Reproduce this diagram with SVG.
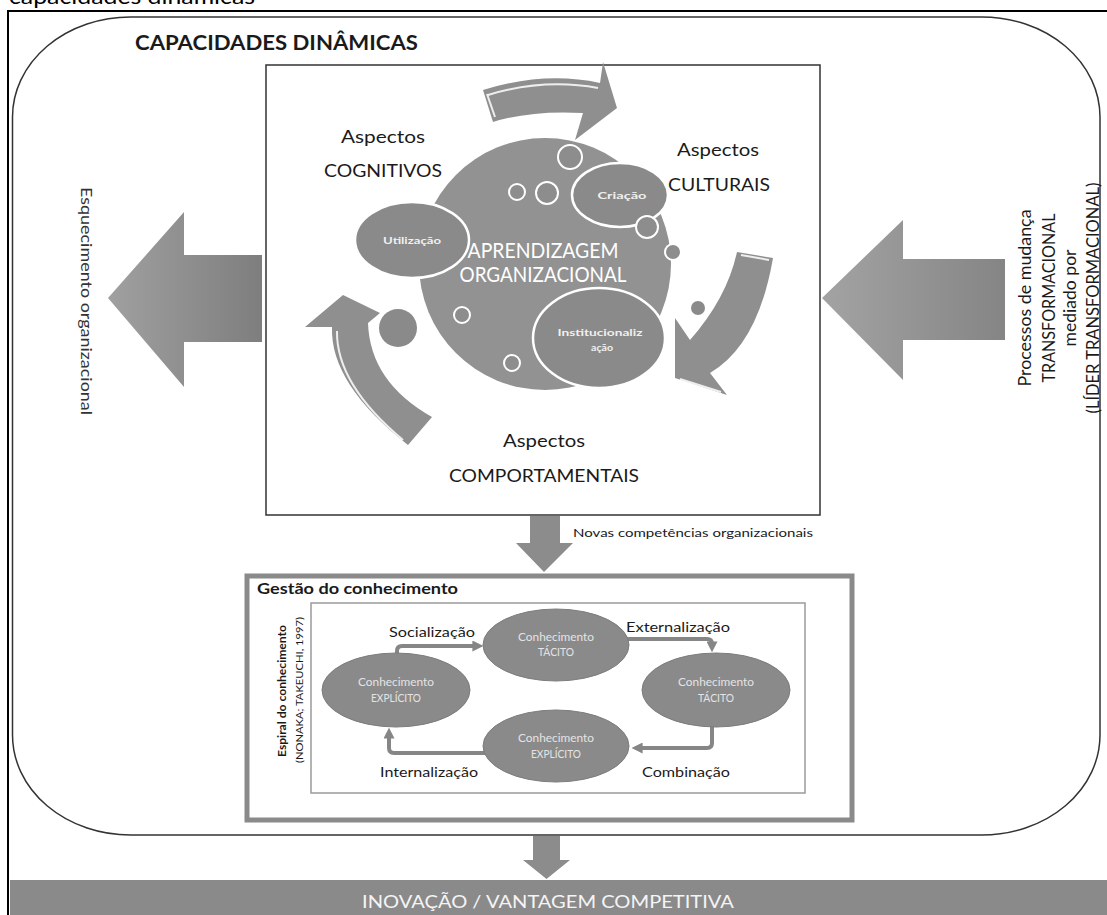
<svg xmlns="http://www.w3.org/2000/svg" width="1107" height="915" viewBox="0 0 1107 915">
<defs>
<style>
text { font-family: Lato, "Liberation Sans", Arial, sans-serif; }
.lbl { font-size:18px; fill:#1a1a1a; }
.wt { fill:#ffffff; }
.sub { fill:#8a8a8a; stroke:#ffffff; stroke-width:2.5; }
.dot { fill:#8d8d8d; stroke:#ffffff; stroke-width:2; }
.ek { fill:#8a8a8a; stroke:#7c7c7c; stroke-width:1; }
.ekt { fill:#e4e4e4; font-size:10.5px; }
.conn { fill:none; stroke:#868686; stroke-width:4; }
.lab { font-size:14px; fill:#1a1a1a; }
.hl { fill:none; stroke:#ffffff; stroke-width:2; stroke-opacity:0.85; }
.carrow { fill:#8f8f8f; }
.barrow { fill:#8c8c8c; }
</style>
<linearGradient id="gL" x1="0" y1="0" x2="1" y2="0">
<stop offset="0" stop-color="#a0a0a0"/>
<stop offset="1" stop-color="#7e7e7e"/>
</linearGradient>
<linearGradient id="gR" x1="0" y1="0" x2="1" y2="0">
<stop offset="0" stop-color="#a3a3a3"/>
<stop offset="1" stop-color="#858585"/>
</linearGradient>
<marker id="ah" viewBox="0 0 10 10" refX="6" refY="5" markerWidth="11" markerHeight="11" markerUnits="userSpaceOnUse" orient="auto">
<path d="M0,0 L10,5 L0,10 z" fill="#868686"/>
</marker>
</defs>

<rect x="0" y="0" width="1107" height="915" fill="#ffffff"/>

<g id="caption">
<text x="9" y="4" font-size="22" fill="#000" textLength="246" lengthAdjust="spacingAndGlyphs">capacidades dinâmicas</text>
</g>

<g id="frame">
<rect x="8" y="11" width="1110" height="920" fill="none" stroke="#000" stroke-width="2"/>
<rect x="12.5" y="17" width="1087.5" height="818" rx="118" ry="100" fill="none" stroke="#333" stroke-width="1.5"/>
<text x="135" y="50" font-size="20" font-weight="bold" fill="#1a1a1a" textLength="283" lengthAdjust="spacingAndGlyphs">CAPACIDADES DINÂMICAS</text>
</g>

<g id="esquecimento">
<polygon points="108,298 184,212 184,255 262,255 262,342 184,342 184,387" fill="url(#gL)"/>
<text transform="translate(81,301) rotate(90)" text-anchor="middle" font-size="15" fill="#333" textLength="228" lengthAdjust="spacingAndGlyphs">Esquecimento organizacional</text>
</g>

<g id="mudanca">
<polygon points="822,298 903,220 903,259 1005,259 1005,340 903,340 903,380" fill="url(#gR)"/>
<text transform="translate(1031,298) rotate(-90)" text-anchor="middle" font-size="17" fill="#1a1a1a" textLength="177" lengthAdjust="spacingAndGlyphs">Processos de mudança</text>
<text transform="translate(1055,298) rotate(-90)" text-anchor="middle" font-size="17" fill="#1a1a1a" textLength="169" lengthAdjust="spacingAndGlyphs">TRANSFORMACIONAL</text>
<text transform="translate(1076,298) rotate(-90)" text-anchor="middle" font-size="17" fill="#1a1a1a" textLength="97" lengthAdjust="spacingAndGlyphs">mediado por</text>
<text transform="translate(1099,298) rotate(-90)" text-anchor="middle" font-size="17" fill="#1a1a1a" textLength="231" lengthAdjust="spacingAndGlyphs">(LÍDER TRANSFORMACIONAL)</text>
</g>

<g id="aprendizagem">
<rect x="266" y="65" width="554" height="450" fill="#ffffff" stroke="#333" stroke-width="1.5"/>
<circle cx="545" cy="264" r="126" fill="#929292"/>
<path class="carrow" d="M483,90 Q544,71 600,83 L603,62 L617,108 L575,140 L583,113 Q532,110 493,122 Z"/>
<path class="hl" d="M488,95 Q544,78 598,88"/>
<path class="hl" d="M487,94 L495,117"/>
<path class="carrow" d="M737,252 L773,258 Q758,345 710,373 L727,395 L675,378 L675,318 L690,340 Q727,298 737,252 Z"/>
<path class="hl" d="M741,255 L769,260"/>
<path class="hl" d="M680,379 L721,392"/>
<path class="carrow" d="M408,445 Q330,384 332,327 L305,327 L343,295 L380,313 L368,323 Q370,382 432,417 Z"/>
<path class="hl" d="M403,440 Q336,384 337,331"/>
<circle cx="398" cy="328" r="19" fill="#8a8a8a"/>
<circle cx="698" cy="308" r="7" fill="#8a8a8a"/>
<text x="543" y="258" text-anchor="middle" font-size="21" class="wt" textLength="151" lengthAdjust="spacingAndGlyphs">APRENDIZAGEM</text>
<text x="543" y="282" text-anchor="middle" font-size="21" class="wt" textLength="167" lengthAdjust="spacingAndGlyphs">ORGANIZACIONAL</text>
<ellipse class="sub" cx="412" cy="240" rx="57" ry="38"/>
<text x="412" y="244" text-anchor="middle" font-size="10" font-weight="bold" fill="#f0f0f0" textLength="58" lengthAdjust="spacingAndGlyphs">Utilização</text>
<ellipse class="sub" cx="620" cy="195" rx="48" ry="32"/>
<text x="622" y="199" text-anchor="middle" font-size="10" font-weight="bold" fill="#f0f0f0" textLength="49" lengthAdjust="spacingAndGlyphs">Criação</text>
<ellipse class="sub" cx="599" cy="338" rx="66" ry="50"/>
<text x="600" y="336" text-anchor="middle" font-size="10" font-weight="bold" fill="#f0f0f0" textLength="85" lengthAdjust="spacingAndGlyphs">Institucionaliz</text>
<text x="602" y="351" text-anchor="middle" font-size="10" font-weight="bold" fill="#f0f0f0" textLength="22" lengthAdjust="spacingAndGlyphs">ação</text>
<circle class="dot" cx="570" cy="157" r="12"/>
<circle class="dot" cx="517" cy="192" r="8"/>
<circle class="dot" cx="547" cy="193" r="11"/>
<circle class="dot" cx="647" cy="227" r="11"/>
<circle class="dot" cx="673" cy="252" r="8" fill="#858585"/>
<circle class="dot" cx="462" cy="315" r="8"/>
<circle class="dot" cx="512" cy="363" r="8"/>
<text x="383" y="143" text-anchor="middle" class="lbl" textLength="84" lengthAdjust="spacingAndGlyphs">Aspectos</text>
<text x="383" y="177" text-anchor="middle" class="lbl" textLength="118" lengthAdjust="spacingAndGlyphs">COGNITIVOS</text>
<text x="718" y="156" text-anchor="middle" class="lbl" textLength="82" lengthAdjust="spacingAndGlyphs">Aspectos</text>
<text x="719" y="191" text-anchor="middle" class="lbl" textLength="102" lengthAdjust="spacingAndGlyphs">CULTURAIS</text>
<text x="544" y="447" text-anchor="middle" class="lbl" textLength="82" lengthAdjust="spacingAndGlyphs">Aspectos</text>
<text x="544" y="482" text-anchor="middle" class="lbl" textLength="190" lengthAdjust="spacingAndGlyphs">COMPORTAMENTAIS</text>
</g>

<g id="gestao">
<rect x="247" y="576" width="605" height="244" fill="#ffffff" stroke="#8a8a8a" stroke-width="5"/>
<text x="257" y="594" font-size="15" font-weight="bold" fill="#1a1a1a" textLength="201" lengthAdjust="spacingAndGlyphs">Gestão do conhecimento</text>
<rect x="311" y="603" width="494" height="190" fill="#ffffff" stroke="#9a9a9a" stroke-width="1.5"/>
<text transform="translate(286,691) rotate(-90)" text-anchor="middle" font-size="10.5" font-weight="bold" fill="#1a1a1a" textLength="132" lengthAdjust="spacingAndGlyphs">Espiral do conhecimento</text>
<text transform="translate(303,690) rotate(-90)" text-anchor="middle" font-size="10" fill="#1a1a1a" textLength="146" lengthAdjust="spacingAndGlyphs">(NONAKA; TAKEUCHI, 1997)</text>
</g>

<g id="connectors">
<polygon class="barrow" points="530,516 560,516 560,543 573,543 544,572 516,543 530,543"/>
<polygon class="barrow" points="533,836 560,836 560,860 570,860 546.5,879 523,860 533,860"/>
<path class="conn" d="M397,656 L397,651 Q397,646 402,646 L479,646" marker-end="url(#ah)"/>
<path class="conn" d="M624,639 L707,639 Q712,639 712,644 L712,648" marker-end="url(#ah)"/>
<path class="conn" d="M712,724 L712,743 Q712,748 707,748 L636,748" marker-end="url(#ah)"/>
<path class="conn" d="M486,753 L394,753 Q389,753 389,748 L389,732" marker-end="url(#ah)"/>
<text x="432" y="637" text-anchor="middle" class="lab" textLength="86" lengthAdjust="spacingAndGlyphs">Socialização</text>
<text x="678" y="632" text-anchor="middle" class="lab" textLength="104" lengthAdjust="spacingAndGlyphs">Externalização</text>
<text x="429" y="777" text-anchor="middle" class="lab" textLength="98" lengthAdjust="spacingAndGlyphs">Internalização</text>
<text x="686" y="777" text-anchor="middle" class="lab" textLength="88" lengthAdjust="spacingAndGlyphs">Combinação</text>
<text x="573" y="537" font-size="12" fill="#1a1a1a" textLength="240" lengthAdjust="spacingAndGlyphs">Novas competências organizacionais</text>
</g>

<g id="tacito-1">
<ellipse class="ek" cx="556" cy="645" rx="73" ry="36"/>
<text x="556" y="641" text-anchor="middle" class="ekt" textLength="76" lengthAdjust="spacingAndGlyphs">Conhecimento</text>
<text x="556" y="656" text-anchor="middle" class="ekt" textLength="36" lengthAdjust="spacingAndGlyphs">TÁCITO</text>
</g>
<g id="explicito-1">
<ellipse class="ek" cx="396" cy="690" rx="74" ry="37"/>
<text x="396" y="686" text-anchor="middle" class="ekt" textLength="76" lengthAdjust="spacingAndGlyphs">Conhecimento</text>
<text x="396" y="702" text-anchor="middle" class="ekt" textLength="50" lengthAdjust="spacingAndGlyphs">EXPLÍCITO</text>
</g>
<g id="tacito-2">
<ellipse class="ek" cx="716" cy="690" rx="74" ry="37"/>
<text x="716" y="686" text-anchor="middle" class="ekt" textLength="76" lengthAdjust="spacingAndGlyphs">Conhecimento</text>
<text x="716" y="702" text-anchor="middle" class="ekt" textLength="36" lengthAdjust="spacingAndGlyphs">TÁCITO</text>
</g>
<g id="explicito-2">
<ellipse class="ek" cx="556" cy="746" rx="73" ry="36"/>
<text x="556" y="742" text-anchor="middle" class="ekt" textLength="76" lengthAdjust="spacingAndGlyphs">Conhecimento</text>
<text x="556" y="758" text-anchor="middle" class="ekt" textLength="50" lengthAdjust="spacingAndGlyphs">EXPLÍCITO</text>
</g>

<g id="inovacao">
<rect x="10" y="880" width="1097" height="35" fill="#8a8a8a"/>
<text x="548" y="908" text-anchor="middle" font-size="18" fill="#f4f4f4" textLength="372" lengthAdjust="spacingAndGlyphs">INOVAÇÃO / VANTAGEM COMPETITIVA</text>
</g>
</svg>
